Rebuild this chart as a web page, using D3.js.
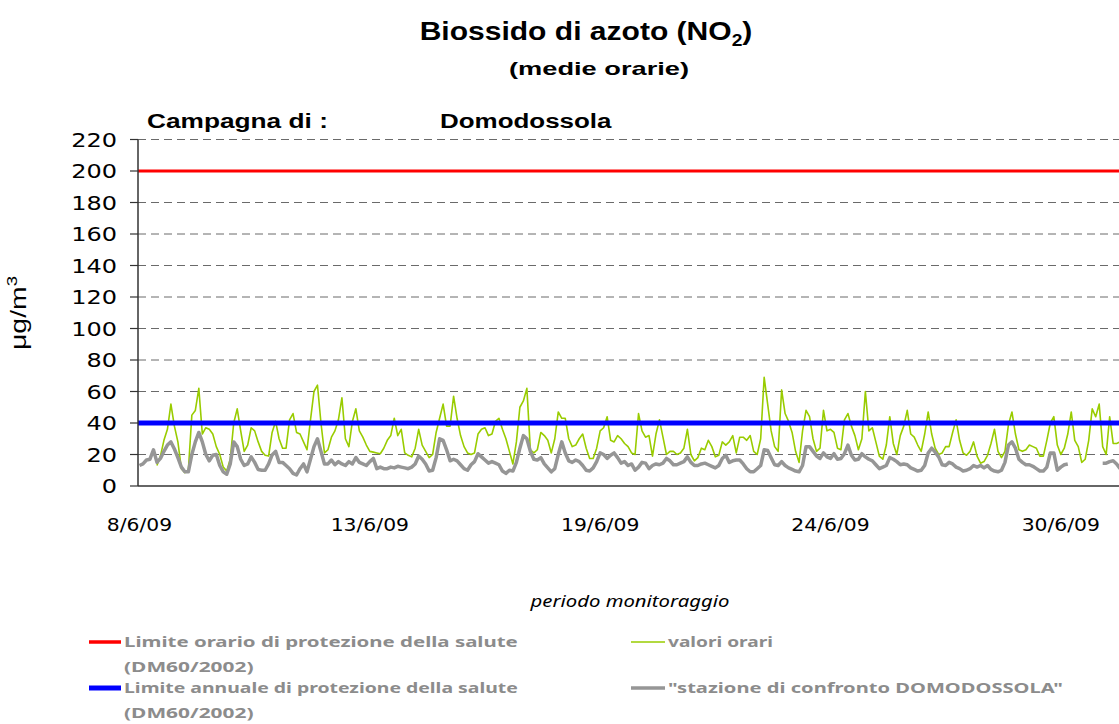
<!DOCTYPE html>
<html><head><meta charset="utf-8">
<script src="https://cdn.jsdelivr.net/npm/d3@7"></script>
<style>body{margin:0;background:#fff} svg{display:block}</style>
</head><body><svg id="c" width="1119" height="724"></svg>
<script>
// ---- data (2-hour samples starting 8/6/2009 00:00) ----
const startDate = new Date(2009, 5, 8, 0, 0);
const stepHours = 2;
const valoriOrari = [
  null,null,null,null,null,13,19,29,36,52,38,28,11,8.5,10,45,48,62,33,37,36,33,25,20,12,9.5,17,40,49,35,22,26,37,35,28,22,
  19.5,19,34,41,30,24,24,42,46,34,33,28,23,42,60,64,40,21,23,31,35,42,56,30,25,41,49,35,31,26,22,21.5,21,20.5,24,29,
  32,43,32,36,21,19.5,18.5,24,36,26,22,18,20,34,43,52,38,38,57,43,32,25,21,20,21,33,36,37,32,33,41,43,36,30,22,14,
  28,50,54,62,23,21,23,34,32,29,21,30,47,43,43,30,25,26,30,33,24,17.5,17.5,24,35,37,44,29,28,32,30,27,25,21,20,46,
  35,31,32,19,33,42,31,20,22,22,20,21,24,36,20,16,18,24,23,29,25,18.5,19.5,28,26,28,32,21,31,31,29,32,22,20,30,69,
  52,35,25,22,61,46,41,34,22,15,35,48,44,30,22,24,48,35,36,34,24,23,42,46,38,32,23,30,60,35,37,28,19,17,26,44,
  27,20,32,38,48,33,31,26,22,33,47,33,24,20,21,25,25,34,42,29,21,19.5,22,28,19,14.5,15.5,19.5,27,36,22,18,22,39,47,33,
  23,22,23,26,25,24,19,19,29,40,44,26,20,24,33,47,29,25,15,17,29,49,44,52,25,20,44,27,27,28
];
const stazioneConfronto = [
  13,14,16.5,17,23,15,17.5,22,26,28,23.5,18,12,9,9,20,28,34,28,20,16,19.5,20,13,9,7.5,14,28,25,17,13,14,18.5,15,10.5,10,
  10,14,19.7,22,15,15,13,11,8,7,11,14,9,17,25,30,22,14,14,16.5,13.5,15.5,14,13,15.5,14,18,15,14,13,15.5,17.5,11,12,11,11,
  12,11.5,12.5,12,11.5,11,12,14,19,17,14,9.5,10,18,30,29,23,16,17,16,13.5,11,10,13.5,15.5,20.5,18.5,16.5,14.5,15.5,14.5,13.5,9.5,8,10,9.5,
  15,24,32,30,22,17,16.5,18,14,11.5,9,11,20,28,21,16,15,16.5,15.5,13,10,9.5,11.5,15.5,21,20,17.5,19.5,21,18,14.5,15.5,13,14,10,12,
  15,14.5,11,13,14,13.5,14.5,17.5,16,13.5,13.5,14.5,15.5,18.5,15,13,13,14,14.5,13.5,12.5,11.5,13,17.5,19.5,15,16,16.5,16.5,14,11,9,9,11,13,23,
  22.5,18,13.5,13,15.5,13,11.5,10.5,9.5,9,13,25,25,22,19,17.5,21,18.5,17.5,20.5,17,17.5,20.5,26,19.5,16.5,17,20.5,18.5,17,16,13.5,11,12,13,18,
  17,15.5,13.5,14,13.5,11.5,10.5,9.5,10,13,21,24,21.5,18.5,13.5,13,15,14,12,11,9.5,10,11,13,12,13,11.5,13,10.5,9.5,9,10,15,26,28,24,
  17,15,13.5,13.5,12.5,11,9.5,9.5,12,21,21,10,12,13.5,14,null,null,null,null,null,null,null,null,null,14.5,14.5,15.5,16,14,11
];
const limiteOrario = 200;
const limiteAnnuale = 40;
const yTickValues = [0,20,40,60,80,100,120,140,160,180,200,220];
const xTickLabels = ["8/6/09","13/6/09","19/6/09","24/6/09","30/6/09"];
const xTickDates = [new Date(2009,5,8,0), new Date(2009,5,13,12), new Date(2009,5,19,0), new Date(2009,5,24,12), new Date(2009,5,30,0)];
const legendItems = [
  {label:"Limite orario di protezione della salute", label2:"(DM60/2002)", color:"#ff0000"},
  {label:"valori orari", color:"#99cc00"},
  {label:"Limite annuale di protezione della salute", label2:"(DM60/2002)", color:"#0000ff"},
  {label:"\"stazione di confronto DOMODOSSOLA\"", color:"#969696"}
];

// ---- layout ----
const svg = d3.select("#c");
const X0 = 138, Y0 = 486, YTOP = 139.5, XR = 1125;
const dateAt = i => new Date(startDate.getTime() + i*stepHours*3600e3);
const x = d3.scaleTime().domain([xTickDates[0], xTickDates[4]]).range([139.5, 1060.8]);
const y = d3.scaleLinear().domain([0, 220]).range([Y0, YTOP]);

function addText(parent, o) {
  const g = parent.append("g").attr("transform", `translate(${o.x},${o.y})` + (o.rotate ? ` rotate(${o.rotate})` : ""));
  const t = g.append("text").attr("text-anchor", o.anchor || "start").attr("dy", o.dy ?? "0.35em")
    .style("font-family", o.family).style("font-size", o.size + "px")
    .style("font-weight", o.weight || "normal").style("font-style", o.fstyle || "normal")
    .attr("fill", o.fill || "#000");
  if (o.parts) {
    o.parts.forEach(p => { const ts = t.append("tspan").text(p.text); if (p.size) ts.style("font-size", p.size + "px"); if (p.dy) ts.attr("dy", p.dy); });
  } else t.text(o.text);
  let sx = o.sx || 1;
  if (o.width) { const w = t.node().getBBox().width; if (w > 0) sx = o.width / w; }
  t.attr("transform", `scale(${sx},1)`);
  return t;
}

// gridlines
svg.append("g").selectAll("line").data(yTickValues.filter(v => v > 0)).join("line")
  .attr("x1", X0).attr("x2", XR).attr("y1", d => y(d)).attr("y2", d => y(d))
  .attr("stroke", "#6a6a6a").attr("stroke-width", 1).attr("stroke-dasharray", "8,5");

// clip for plot
svg.append("clipPath").attr("id", "plot").append("rect").attr("x", X0).attr("y", YTOP - 5).attr("width", XR - X0).attr("height", Y0 - YTOP + 5);
const plot = svg.append("g").attr("clip-path", "url(#plot)");

const line = d3.line().defined(d => d != null).x((d, i) => x(dateAt(i))).y(d => y(d));
// draw order: red, green, blue, gray
plot.append("line").attr("x1", X0).attr("x2", XR).attr("y1", y(limiteOrario)).attr("y2", y(limiteOrario))
  .attr("stroke", "#ff0000").attr("stroke-width", 3);
plot.append("path").datum(valoriOrari).attr("d", line).attr("fill", "none")
  .attr("stroke", "#99cc00").attr("stroke-width", 1.6).attr("stroke-linejoin", "round");
plot.append("line").attr("x1", X0).attr("x2", XR).attr("y1", y(limiteAnnuale)).attr("y2", y(limiteAnnuale))
  .attr("stroke", "#0000ff").attr("stroke-width", 5);
plot.append("path").datum(stazioneConfronto).attr("d", line).attr("fill", "none")
  .attr("stroke", "#969696").attr("stroke-width", 3.5).attr("stroke-linejoin", "round");

// axes
svg.append("line").attr("x1", X0).attr("x2", X0).attr("y1", YTOP).attr("y2", Y0).attr("stroke", "#333").attr("stroke-width", 1.5);
svg.append("line").attr("x1", X0).attr("x2", XR).attr("y1", Y0).attr("y2", Y0).attr("stroke", "#333").attr("stroke-width", 1.5);
svg.append("g").selectAll("line").data(yTickValues).join("line")
  .attr("x1", 130).attr("x2", X0).attr("y1", d => y(d)).attr("y2", d => y(d)).attr("stroke", "#333").attr("stroke-width", 1.2);
yTickValues.forEach(v => addText(svg, {x: 117, y: y(v), anchor: "end", text: String(v), family: "DejaVu Sans", size: 20, sx: 1.2}));
xTickLabels.forEach((lab, i) => addText(svg, {x: x(xTickDates[i]), y: 525, anchor: "middle", text: lab, family: "DejaVu Sans", size: 18, sx: 1.13}));

// titles
addText(svg, {x: 586, y: 31, anchor: "middle", family: "Liberation Sans", weight: "bold", size: 25, width: 333,
  parts: [{text: "Biossido di azoto (NO"}, {text: "2", size: 16, dy: 6}, {text: ")", dy: -6}]});
addText(svg, {x: 599, y: 68, anchor: "middle", family: "Liberation Sans", weight: "bold", size: 19, width: 180, text: "(medie orarie)"});
addText(svg, {x: 147, y: 121, anchor: "start", family: "Liberation Sans", weight: "bold", size: 21, width: 181, text: "Campagna di :"});
addText(svg, {x: 440, y: 121, anchor: "start", family: "Liberation Sans", weight: "bold", size: 21, width: 172, text: "Domodossola"});
addText(svg, {x: 18, y: 313, anchor: "middle", rotate: -90, family: "Liberation Sans", size: 23, width: 74,
  parts: [{text: "\u03bcg/m"}, {text: "3", size: 15, dy: -9}]});
addText(svg, {x: 630, y: 601, anchor: "middle", family: "Noto Sans", fstyle: "italic", size: 17, width: 200, text: "periodo monitoraggio"});

// legend
const legendPos = [
  {sx1: 89, sx2: 121, tx: 124, y: 642, w: 394, w2: 130},
  {sx1: 631, sx2: 665, tx: 668, y: 642, w: 105},
  {sx1: 89, sx2: 121, tx: 124, y: 688, w: 394, w2: 130},
  {sx1: 631, sx2: 665, tx: 668, y: 688, w: 395}
];
const legendWidths = [3.5, 1.6, 5, 3.5];
legendItems.forEach((it, i) => {
  const p = legendPos[i];
  svg.append("line").attr("x1", p.sx1).attr("x2", p.sx2).attr("y1", p.y).attr("y2", p.y).attr("stroke", it.color).attr("stroke-width", legendWidths[i]);
  addText(svg, {x: p.tx, y: p.y, family: "Noto Sans", weight: "bold", size: 14, fill: "#8c8c8c", width: p.w, text: it.label});
  if (it.label2) addText(svg, {x: p.tx, y: p.y + 25, family: "Noto Sans", weight: "bold", size: 14, fill: "#8c8c8c", width: p.w2, text: it.label2});
});
</script></body></html>
